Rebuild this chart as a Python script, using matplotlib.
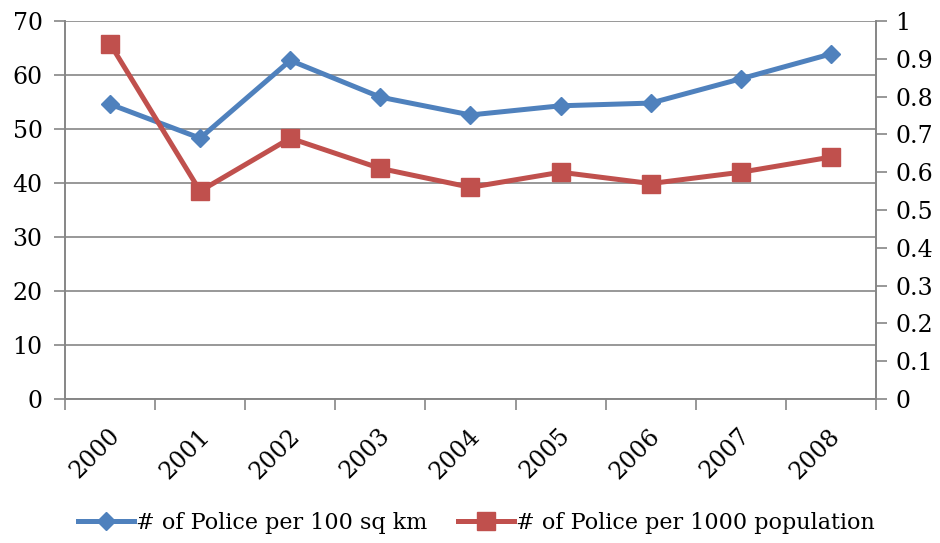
import matplotlib.pyplot as plt
import numpy as np
from matplotlib.transforms import ScaledTranslation

plt.rcParams['font.family'] = ['DejaVu Serif']

# 数据
years = ['2000', '2001', '2002', '2003', '2004', '2005', '2006', '2007', '2008']
police_per_area = [54.6, 48.3, 62.7, 55.9, 52.6, 54.3, 54.8, 59.3, 63.9]
police_per_pop = [0.94, 0.55, 0.69, 0.61, 0.56, 0.60, 0.57, 0.60, 0.64]

blue = '#4F81BD'
red = '#C0504D'
grid_c = '#868686'

fig = plt.figure(figsize=(9.4, 5.43), dpi=100)
ax = fig.add_axes([0.0691, 0.2652, 0.8628, 0.6961])
ax2 = ax.twinx()

x = np.arange(len(years))
l1, = ax.plot(x, police_per_area, color=blue, lw=3.6, marker='D', ms=9.5,
              label='# of Police per 100 sq km')
l2, = ax2.plot(x, police_per_pop, color=red, lw=3.6, marker='s', ms=13,
               label='# of Police per 1000 population')

ax.set_xlim(-0.5, len(years) - 0.5)
ax.set_ylim(0, 70)
ax.set_yticks(range(0, 71, 10))
ax2.set_ylim(0, 1)
ax2.set_yticks(np.arange(0, 1.01, 0.1))
ax2.set_yticklabels(['0', '0.1', '0.2', '0.3', '0.4', '0.5', '0.6', '0.7', '0.8', '0.9', '1'])

ax.grid(axis='y', color=grid_c, lw=1.2)
ax.set_axisbelow(True)
for a in (ax, ax2):
    for s in a.spines.values():
        s.set_color(grid_c)
        s.set_linewidth(1.2)
    a.spines['top'].set_visible(False)

ax.set_xticks(x)
ax.set_xticklabels(years, rotation=45, ha='right', va='center', rotation_mode='anchor')
ax.tick_params(axis='x', which='major', length=0, pad=24, labelsize=17)
# 年份标签略向右移
for lbl in ax.get_xticklabels():
    lbl.set_transform(lbl.get_transform() + ScaledTranslation(0.06, 0, fig.dpi_scale_trans))
ax.set_xticks(np.arange(-0.5, len(years)), minor=True)
ax.tick_params(axis='x', which='minor', length=8, color=grid_c, width=1.2)
ax.tick_params(axis='y', length=8, color=grid_c, width=1.2, labelsize=17, pad=8)
ax2.tick_params(axis='y', length=8, color=grid_c, width=1.2, labelsize=17, pad=6)

fig.legend(handles=[l1, l2], loc='center', bbox_to_anchor=(0.507, 0.037), ncol=2,
           frameon=False, fontsize=16, handlelength=2.5, handletextpad=0.1,
           columnspacing=1.4)

plt.savefig('out.png', dpi=100)
